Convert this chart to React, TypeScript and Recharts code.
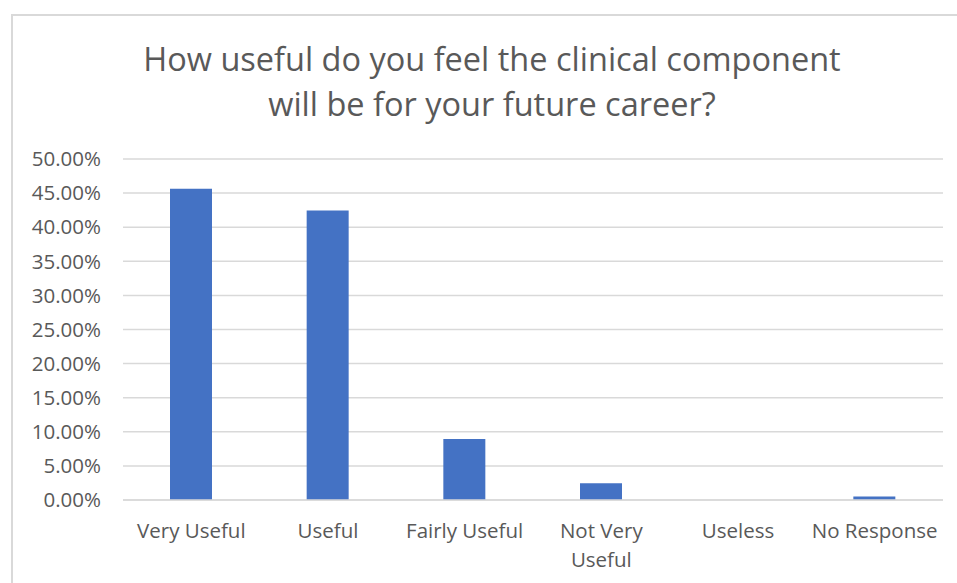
import { BarChart, Bar, XAxis, YAxis, CartesianGrid } from "recharts";

const categories = [
  "Very Useful",
  "Useful",
  "Fairly Useful",
  "Not Very Useful",
  "Useless",
  "No Response",
];
const shares = [45.65, 42.45, 8.95, 2.45, 0, 0.5];
const yTicks = [0, 5, 10, 15, 20, 25, 30, 35, 40, 45, 50];
const titleLines = [
  "How useful do you feel the clinical component",
  "will be for your future career?",
];

const data = categories.map((name, i) => ({ name, value: shares[i] }));

const FONT = "'Open Sans', sans-serif";
const GREY = "#595959";

// greedy word wrap, roughly what fits in one category slot
function wrap(label: string, maxChars = 13) {
  const lines: string[] = [];
  let cur = "";
  for (const w of label.split(" ")) {
    const next = cur ? cur + " " + w : w;
    if (next.length > maxChars && cur) {
      lines.push(cur);
      cur = w;
    } else {
      cur = next;
    }
  }
  if (cur) lines.push(cur);
  return lines;
}

function CategoryTick(props: any) {
  const { x, y, payload } = props;
  const lines = wrap(String(payload.value));
  return (
    <text
      x={x}
      y={y + 15}
      textAnchor="middle"
      fill={GREY}
      fontSize={20.5}
      fontFamily={FONT}
    >
      {lines.map((l, i) => (
        <tspan key={i} x={x} dy={i === 0 ? 0 : 29}>
          {l}
        </tspan>
      ))}
    </text>
  );
}

export default function App() {
  return (
    <div
      style={{
        position: "absolute",
        left: 0,
        top: 0,
        width: 957,
        height: 583,
        overflow: "hidden",
        background: "#fff",
      }}
    >
      <div
        style={{
          position: "absolute",
          left: 11,
          top: 14,
          width: 1000,
          height: 700,
          border: "2px solid #d9d9d9",
        }}
      />
      <div
        style={{
          position: "absolute",
          left: 0,
          top: 36,
          width: 984,
          textAlign: "center",
          fontFamily: FONT,
          fontSize: 32.5,
          lineHeight: "45px",
          color: GREY,
        }}
      >
        {titleLines.map((t) => (
          <div key={t}>{t}</div>
        ))}
      </div>
      <div style={{ position: "absolute", left: 0, top: 0 }}>
        <BarChart
          width={957}
          height={583}
          data={data}
          margin={{ top: 159, right: 14, bottom: 0, left: 0 }}
          barSize={42}
        >
          <CartesianGrid
            vertical={false}
            stroke="#d9d9d9"
            strokeWidth={1.5}
          />
          <XAxis
            dataKey="name"
            height={83}
            axisLine={{ stroke: "#d9d9d9", strokeWidth: 1.5 }}
            tickLine={false}
            tickSize={0}
            tickMargin={23}
            interval={0}
            tick={<CategoryTick />}
          />
          <YAxis
            width={123}
            domain={[0, 50]}
            ticks={yTicks}
            axisLine={false}
            tickLine={false}
            tickSize={0}
            tickMargin={22}
            tickFormatter={(v: number) => `${v.toFixed(2)}%`}
            tick={{ fill: GREY, fontSize: 20.5, fontFamily: FONT }}
          />
          <Bar dataKey="value" fill="#4472C4" isAnimationActive={false} />
        </BarChart>
      </div>
    </div>
  );
}
